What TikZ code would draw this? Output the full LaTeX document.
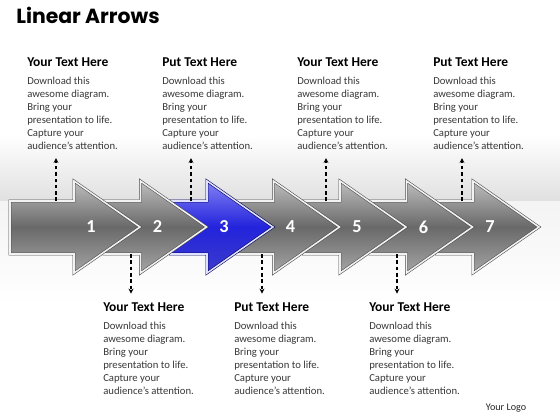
\documentclass[tikz,border=0pt]{standalone}
\usepackage{fontspec}
\setmainfont{Carlito}
\newfontfamily\titlefont{Poppins}
\usetikzlibrary{arrows.meta,positioning}

\definecolor{bluetop}{RGB}{130,130,245}
\definecolor{bluemid}{RGB}{35,35,220}
\definecolor{bluebot}{RGB}{60,60,205}
\definecolor{greytop}{RGB}{190,190,190}
\definecolor{greymid}{RGB}{105,105,105}
\definecolor{greybot}{RGB}{165,165,165}

\newcommand\blurbtext[1]{{\headfont #1 Text Here}\\[4pt]
  Download this\\awesome diagram.\\Bring your\\presentation to life.\\Capture your\\audience's attention.}
\newcommand\headfont{\fontsize{9.6}{10}\selectfont\bfseries\color{black}}

\begin{document}
\begin{tikzpicture}[x=0.025cm, y=-0.025cm,
  blurb/.style={align=left, inner sep=0pt, text=black!78,
    font=\fontsize{7.6}{9.2}\selectfont},
  numlabel/.style={text=white, font=\fontsize{13}{13}\selectfont\bfseries},
  greystep/.style={shade, top color=greytop, bottom color=greybot, middle color=greymid,
    draw=gray!60!black, double=gray!10, double distance=1.1pt, line join=miter},
  bluestep/.style={shade, top color=bluetop, bottom color=bluebot, middle color=bluemid,
    draw=blue!35!black, double=blue!12, double distance=1.1pt, line join=miter},
  link/.style={dash pattern=on 2.5pt off 2pt, line width=0.8pt,
    -{Stealth[length=3.5pt, width=3.5pt]}, shorten >=6pt}]
  \useasboundingbox (0,0) rectangle (560,420);
  % backdrop
  \fill[white] (0,0) rectangle (560,420);
  \shade[top color=white, bottom color=gray!24] (0,135) rectangle (560,201);
  \shade[top color=gray!9, bottom color=white] (0,201) rectangle (560,305);

  \node[anchor=base west, inner sep=0pt, font=\titlefont\bfseries\fontsize{14.5}{16}\selectfont]
    (title) at (16,24) {Linear Arrows};

  % the seven steps, drawn back to front
  \foreach \k in {7,...,1} {
    \pgfmathsetmacro\h{74+66.5*(\k-1)}
    \pgfmathsetmacro\s{ifthenelse(\k==1,10,\h-36.5)}
    \pgfmathsetmacro\t{\h+66}
    \ifnum\k=3 \def\sty{bluestep}\else \def\sty{greystep}\fi
    \path[\sty] (\s,201) -- (\h,201) -- (\h,181) -- (\t,227)
      -- (\h,273) -- (\h,254) -- (\s,254) -- cycle;
    \node[numlabel] (n\k) at (\h+17,227) {\k};
  }

  % texts above
  \foreach \k/\px/\word in {1/56/Your, 3/191/Put, 5/326/Your, 7/462/Put} {
    \coordinate (p\k) at (\px,201);
    \node[blurb, anchor=north west] (t\k) at (\px-29,57) {\blurbtext{\word}};
    \draw[link] (p\k) -- (p\k |- t\k.south);
  }
  % texts below
  \foreach \k/\px/\word in {2/131/Your, 4/262/Put, 6/397/Your} {
    \coordinate (p\k) at (\px,254);
    \node[blurb, anchor=north west] (t\k) at (\px-28,302) {\blurbtext{\word}};
    \draw[link] (p\k) -- (p\k |- t\k.north);
  }

  \node[font=\fontsize{7.2}{8}\selectfont, text=black!85] (logo) at (506,408) {Your Logo};
\end{tikzpicture}
\end{document}
